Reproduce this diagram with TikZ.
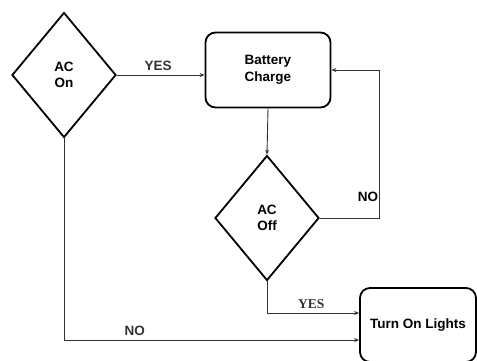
\documentclass[tikz,border=0pt]{standalone}
\usepackage{fontspec}
\setmainfont{Liberation Sans}
\newfontfamily\serifyes{Liberation Serif}
\usetikzlibrary{arrows.meta,positioning,shapes.geometric}

\begin{document}
\begin{tikzpicture}[
  x=1pt, y=-1pt,
  font=\fontsize{13.5}{16.5}\selectfont\bfseries,
  dec/.style={draw, diamond, line width=1.8pt, align=center,
              minimum width=104pt, minimum height=125pt, inner sep=0pt},
  blk/.style={draw, rounded corners=10pt, line width=1.8pt, align=center},
  arrow/.style={-{Stealth[length=5pt,width=4pt]}, line width=0.9pt, black!80},
  lbl/.style={inner sep=1pt}
]
\useasboundingbox (0,0) rectangle (477,360);

% ---- Decisions ----
\node[dec] (acon)  at (64,75)   {AC\\On};
\node[dec] (acoff) at (267,218) {AC\\Off};

% ---- Actions ----
\node[blk, minimum width=125pt, minimum height=75pt] (charge) at (268,70)
  {Battery\\Charge};
\node[blk, minimum width=116pt, minimum height=74pt] (lights) at (418,325)
  {Turn On Lights};

% ---- Wiring ----
\draw[arrow] (acon.east) -- node[lbl, above=3pt, pos=0.47]{YES} (acon.east -| charge.west);
\draw[arrow] (charge.south) -- (acoff.north);
\draw[arrow] (acoff.east) -- ++(60,0) coordinate (loop)
  |- (charge.east);
\node[lbl] (nolbl) at ([shift={(-12,-21)}]loop) {NO};
\draw[arrow] (acoff.south) |- node[lbl, above=3pt, pos=0.74]{\serifyes YES}
  ([yshift=12pt]lights.west);
\draw[arrow] (acon.south) |- node[lbl, above=3pt, pos=0.62]{NO}
  ([yshift=-15pt]lights.west);
\end{tikzpicture}
\end{document}
